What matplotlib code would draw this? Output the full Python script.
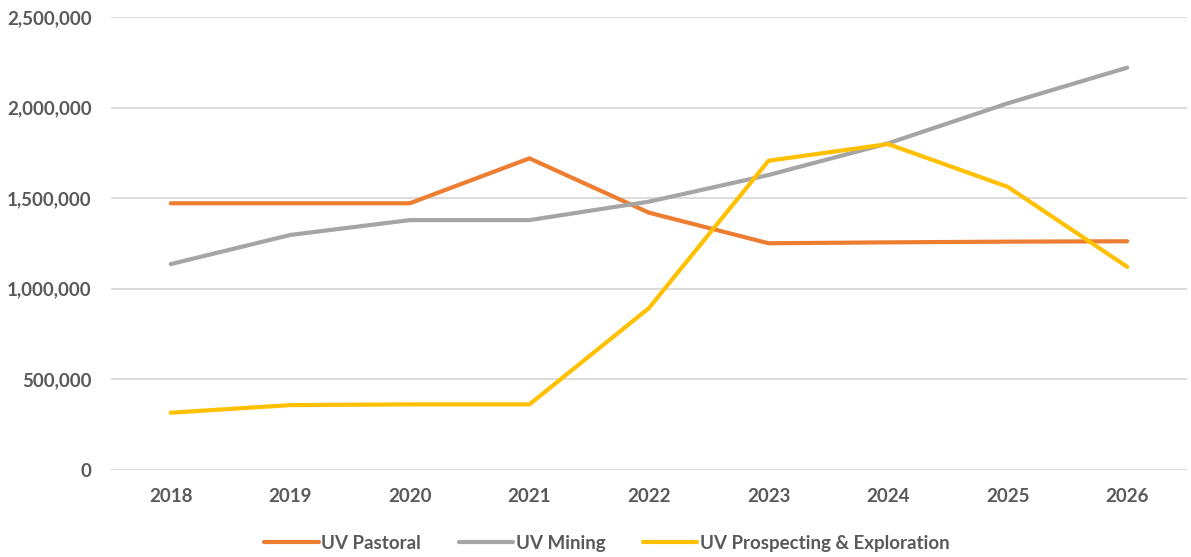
import matplotlib.pyplot as plt
from matplotlib.ticker import FuncFormatter

# Unimproved value by land use, 2018-2026
years = ["2018", "2019", "2020", "2021", "2022", "2023", "2024", "2025", "2026"]
uv_pastoral = [1471000, 1471000, 1471000, 1719000, 1419000, 1250000, 1255000, 1259000, 1261000]
uv_mining = [1135000, 1296000, 1378000, 1378000, 1480000, 1627000, 1802000, 2023000, 2220000]
uv_prospecting = [314000, 356000, 360000, 360000, 892000, 1706000, 1798000, 1562000, 1120000]

series = [
    ("UV Pastoral", uv_pastoral, "#ED7D31"),
    ("UV Mining", uv_mining, "#A5A5A5"),
    ("UV Prospecting & Exploration", uv_prospecting, "#FFC000"),
]

plt.rcParams['font.family'] = ['Lato', 'DejaVu Sans']
text_color = "#595959"

fig = plt.figure(figsize=(11.91, 5.57), dpi=100)
ax = fig.add_axes([0.0932, 0.157, 0.9034, 0.8125])

x = range(len(years))
for label, values, color in series:
    ax.plot(x, values, color=color, lw=3, label=label,
            solid_capstyle="round", solid_joinstyle="round")

ax.set_xlim(-0.5, len(years) - 0.5)
ax.set_ylim(0, 2500000)
ax.set_yticks(range(0, 2500001, 500000))
ax.yaxis.set_major_formatter(FuncFormatter(lambda v, p: f"{int(v):,}"))
ax.set_xticks(list(x))
ax.set_xticklabels(years)

ax.grid(axis="y", color="#D9D9D9", lw=1.3)
ax.set_axisbelow(True)
for s in ax.spines.values():
    s.set_visible(False)
ax.tick_params(length=0, labelsize=13.5, labelcolor=text_color)
ax.tick_params(axis="y", pad=14)
ax.tick_params(axis="x", pad=13)
for t in ax.get_xticklabels() + ax.get_yticklabels():
    t.set_fontweight("bold")

fig.legend(loc="center", bbox_to_anchor=(0.5097, 0.025), ncol=3, frameon=False,
           handlelength=2.9, handletextpad=0.15, columnspacing=2.0,
           prop={"size": 13.5, "weight": "bold"}, labelcolor=text_color)

fig.savefig("out.png", dpi=100)
